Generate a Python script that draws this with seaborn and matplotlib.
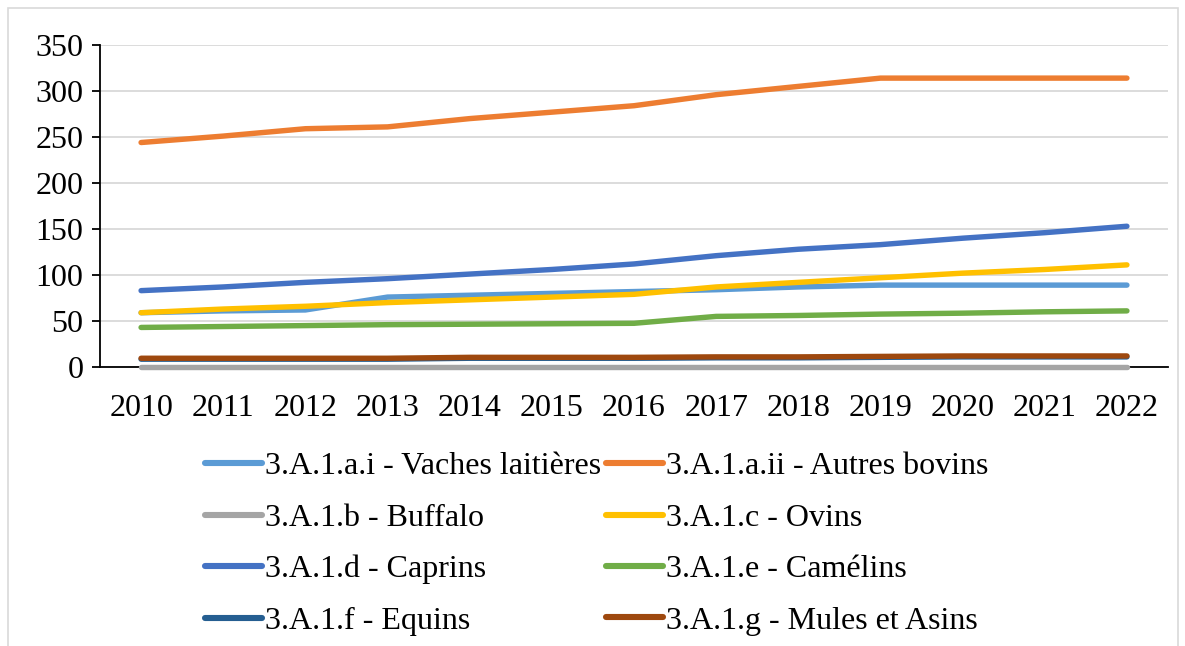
import matplotlib
matplotlib.use("Agg")
import matplotlib.pyplot as plt
import seaborn as sns
import pandas as pd
from matplotlib.patches import Rectangle
from matplotlib.lines import Line2D

years = list(range(2010, 2023))
vaches = [59, 61, 62, 76, 78, 80, 82, 84, 87, 89, 89, 89, 89]
autres = [244, 251, 259, 261, 270, 277, 284, 296, 305, 314, 314, 314, 314]
buffalo = [0, 0, 0, 0, 0, 0, 0, 0, 0, 0, 0, 0, 0]
ovins = [59, 63, 66, 70, 73, 76, 79, 87, 92, 97, 102, 106, 111]
caprins = [83, 87, 92, 96, 101, 106, 112, 121, 128, 133, 140, 146, 153]
camelins = [43, 44, 45, 46, 46.5, 47, 47.5, 55, 56, 57.5, 58.5, 60, 61]
equins = [8.5, 8.5, 8.5, 8.5, 9.5, 9.5, 9.5, 10, 10, 10.5, 11, 11, 11]
mules = [9.5, 9.5, 9.5, 9.5, 10.5, 10.5, 10.5, 11, 11, 11.5, 12, 12, 12]

names = ["3.A.1.a.i - Vaches laitières", "3.A.1.a.ii - Autres bovins",
         "3.A.1.b - Buffalo", "3.A.1.c - Ovins", "3.A.1.d - Caprins",
         "3.A.1.e - Camélins", "3.A.1.f - Equins", "3.A.1.g - Mules et Asins"]
series = [vaches, autres, buffalo, ovins, caprins, camelins, equins, mules]
colors = ["#5B9BD5", "#ED7D31", "#A5A5A5", "#FFC000", "#4472C4", "#70AD47", "#255E91", "#9E480E"]

rows = []
for n, s in zip(names, series):
    for y, v in zip(years, s):
        rows.append({"Année": y, "Valeur": v, "Catégorie": n})
df = pd.DataFrame(rows)

sns.set_style("white")
plt.rcParams["font.family"] = ["Liberation Serif", "DejaVu Serif"]
plt.rcParams["text.color"] = "black"
plt.rcParams["xtick.color"] = "black"
plt.rcParams["ytick.color"] = "black"

fig = plt.figure(figsize=(11.85, 6.46), dpi=100)
ax = fig.add_axes([100/1185, 1-367/646, (1168-100)/1185, (367-45)/646])

sns.lineplot(data=df, x="Année", y="Valeur", hue="Catégorie", hue_order=names,
             palette=dict(zip(names, colors)), linewidth=3.9, ax=ax,
             legend=False, solid_capstyle="round")
for ln in ax.lines:
    ln.set_clip_on(False)
    ln.set_zorder(3)

ax.set_xlim(2009.5, 2022.5)
ax.set_ylim(0, 350)
ax.set_yticks(range(0, 351, 50))
ax.set_xticks(years)
ax.set_xticklabels([str(y) for y in years])
ax.grid(axis="y", color="#d9d9d9", linewidth=1.3)
ax.set_axisbelow(True)
for sp in ["top", "right"]:
    ax.spines[sp].set_visible(False)
ax.spines["left"].set_color("black")
ax.spines["bottom"].set_color("black")
ax.spines["left"].set_linewidth(1.3)
ax.spines["bottom"].set_linewidth(1.3)
ax.spines["bottom"].set_zorder(1.5)
ax.tick_params(axis="y", which="both", left=True, length=6, width=1.3, color="black",
               labelcolor="black", labelsize=23, pad=6)
ax.tick_params(axis="x", bottom=False, labelcolor="black", labelsize=23, pad=16)
ax.set_xlabel("")
ax.set_ylabel("")

order = [0, 2, 4, 6, 1, 3, 5, 7]
handles = [Line2D([0], [0], color=colors[i], linewidth=4.4, solid_capstyle="round") for i in order]
labels = [names[i] for i in order]
leg = fig.legend(handles, labels, ncol=2, loc="upper left", bbox_to_anchor=(205/1185, 1-452/646),
                 frameon=False, fontsize=23, handlelength=1.78, handletextpad=0.1,
                 columnspacing=0.15, labelspacing=0.69, borderaxespad=0, borderpad=0)
for t in leg.get_texts():
    t.set_color("black")

fig.add_artist(Rectangle((8/1185, -0.01), (1178-8)/1185, 1.0 - 8/646 + 0.01,
                         transform=fig.transFigure, fill=False,
                         edgecolor="#d9d9d9", linewidth=1.2))

fig.savefig("out.png", dpi=100)
